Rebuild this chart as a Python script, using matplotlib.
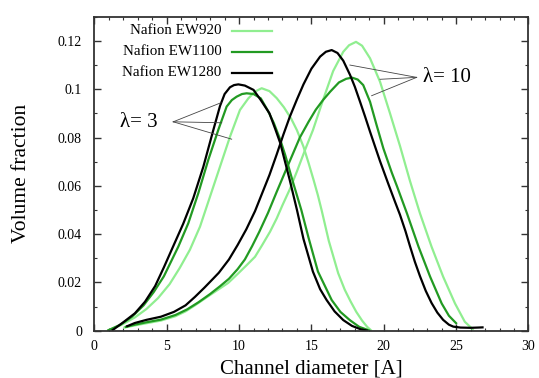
import matplotlib
matplotlib.use("Agg")
import matplotlib.pyplot as plt

plt.rcParams['font.family'] = ['Liberation Serif', 'DejaVu Serif']

# lambda = 3 curves
x3_920 = [0.9, 1.8, 2.8, 3.6, 4.4, 5.2, 5.9, 6.6, 7.3, 7.99, 8.68, 9.37, 10.06, 10.64, 11.1,
          11.56, 12.1, 12.6, 13.1, 13.6, 14.0, 14.45, 14.8, 15.15, 15.45, 15.7, 16.2, 16.85, 17.3,
          17.7, 18.1, 18.5, 18.85, 19.15]
y3_920 = [0, 0.0022, 0.0055, 0.0090, 0.0135, 0.0193, 0.0260, 0.0335, 0.0431, 0.0555, 0.0679, 0.0803,
          0.0914, 0.0962, 0.0990, 0.1004, 0.0992, 0.0963, 0.0925, 0.0878, 0.0830, 0.0762, 0.0695,
          0.0624, 0.0560, 0.0500, 0.0372, 0.0238, 0.0170, 0.0122, 0.0078, 0.0042, 0.0016, 0]

x3_1100 = [0.9, 1.8, 2.6, 3.4, 4.1, 4.8, 5.8, 6.49, 7.18, 7.87, 8.56, 9.14, 9.5, 9.83, 10.2, 10.52,
           11.0, 11.5, 12.0, 12.4, 12.85, 13.2, 13.7, 14.3, 14.8, 15.45, 16.4, 17.0, 17.65, 18.3, 19.05]
y3_1100 = [0, 0.0025, 0.0058, 0.0105, 0.0160, 0.0225, 0.0348, 0.0445, 0.0569, 0.0707, 0.0831, 0.0928,
           0.0955, 0.0969, 0.0980, 0.0983, 0.0980, 0.0962, 0.0910, 0.0860, 0.0790, 0.0725, 0.0620,
           0.0500, 0.0385, 0.0245, 0.0127, 0.0078, 0.0044, 0.0016, 0]

x3_1280 = [1.2, 2.0, 2.8, 3.5, 4.2, 4.8, 5.45, 6.14, 6.83, 7.53, 8.22, 8.68, 9.0, 9.37, 9.65, 9.95,
           10.4, 11.0, 11.5, 12.1, 12.5, 12.85, 13.5, 14.0, 14.45, 15.1, 15.6, 16.05, 16.6, 17.2,
           17.8, 18.4, 18.9]
y3_1280 = [0, 0.0035, 0.0072, 0.0120, 0.0185, 0.0262, 0.0350, 0.0443, 0.0548, 0.0679, 0.0831, 0.0930,
           0.0980, 0.1008, 0.1017, 0.1020, 0.1015, 0.0997, 0.0955, 0.0900, 0.0835, 0.0776, 0.0624,
           0.0500, 0.0380, 0.0245, 0.0172, 0.0127, 0.0080, 0.0044, 0.0020, 0.0006, 0]

# lambda = 10 curves
x10_920 = [2.0, 2.8, 3.6, 4.6, 5.6, 6.3, 6.95, 7.8, 8.6, 9.25, 9.9, 10.5, 11.1, 11.6, 12.14, 12.6,
           13.0, 13.5, 14.0, 14.6, 15.1, 15.8, 16.5, 17.2, 17.6, 18.08, 18.5, 19.05, 19.74, 20.43,
           21.12, 21.81, 22.5, 23.3, 24.1, 24.92, 25.6, 26.2]
y10_920 = [0.0012, 0.0022, 0.0031, 0.0042, 0.0060, 0.0080, 0.0105, 0.0140, 0.0172, 0.0198, 0.0235,
           0.0270, 0.0306, 0.0355, 0.0410, 0.0465, 0.0520, 0.0585, 0.0660, 0.0755, 0.0830, 0.0955,
           0.1075, 0.1155, 0.1182, 0.1196, 0.1180, 0.1128, 0.1031, 0.0900, 0.0765, 0.0620, 0.0486,
           0.0348, 0.0224, 0.0113, 0.0037, 0.0003]

x10_1100 = [2.1, 2.8, 3.6, 4.6, 5.6, 6.4, 7.2, 8.0, 8.7, 9.3, 9.9, 10.4, 10.9, 11.4, 12.0, 12.6, 13.2,
            13.7, 14.2, 14.8, 15.3, 15.8, 16.3, 16.9, 17.4, 17.8, 18.2, 18.58, 19.05, 19.5, 19.97,
            20.55, 20.9, 21.6, 22.4, 23.2, 24.0, 24.5, 25.05]
y10_1100 = [0.0015, 0.0025, 0.0035, 0.0046, 0.0065, 0.0088, 0.0118, 0.0152, 0.0185, 0.0215, 0.0255,
            0.0295, 0.0350, 0.0410, 0.0488, 0.0575, 0.0660, 0.0730, 0.0800, 0.0865, 0.0915, 0.0955,
            0.0990, 0.1028, 0.1043, 0.1048, 0.1040, 0.1017, 0.0948, 0.0852, 0.0755, 0.0655, 0.0600,
            0.0486, 0.0348, 0.0224, 0.0113, 0.0062, 0.0028]

x10_1280 = [2.2, 2.8, 3.6, 4.6, 5.5, 6.3, 6.95, 7.6, 8.2, 8.6, 9.3, 9.9, 10.5, 11.1, 11.6, 12.1, 12.6,
            13.05, 13.5, 14.0, 14.45, 15.0, 15.6, 16.0, 16.4, 16.8, 17.2, 17.67, 18.0, 18.36, 18.7,
            19.05, 19.4, 19.74, 20.3, 20.8, 21.12, 21.5, 21.81, 22.15, 22.5, 22.9, 23.3, 23.7, 24.1,
            24.5, 24.8, 25.3, 26.0, 26.5, 26.9]
y10_1280 = [0.0017, 0.0032, 0.0045, 0.0058, 0.0078, 0.0105, 0.0140, 0.0178, 0.0215, 0.0240, 0.0295,
            0.0355, 0.0420, 0.0495, 0.0570, 0.0645, 0.0730, 0.0810, 0.0885, 0.0958, 0.1020, 0.1085,
            0.1135, 0.1155, 0.1162, 0.1150, 0.1118, 0.1059, 0.1010, 0.0948, 0.0888, 0.0824, 0.0762,
            0.0702, 0.0610, 0.0530, 0.0480, 0.0412, 0.0350, 0.0285, 0.0226, 0.0165, 0.0115, 0.0075,
            0.0045, 0.0025, 0.0017, 0.0013, 0.0012, 0.0013, 0.0014]

labels = ['Nafion EW920', 'Nafion EW1100', 'Nafion EW1280']
colors = ['#90ee90', '#229a22', 'black']

xticks = [0, 5, 10, 15, 20, 25, 30]
yticks = [0, 0.02, 0.04, 0.06, 0.08, 0.1, 0.12]
ytick_labels = ['0', '0.02', '0.04', '0.06', '0.08', '0.1', '0.12']

fig = plt.figure(figsize=(5.39, 3.78), dpi=100)
ax = fig.add_axes([0.1751, 0.1251, 0.8054, 0.8306])

curves3 = [(x3_920, y3_920), (x3_1100, y3_1100), (x3_1280, y3_1280)]
curves10 = [(x10_920, y10_920), (x10_1100, y10_1100), (x10_1280, y10_1280)]
for (xa, ya), (xb, yb), c in zip(curves3, curves10, colors):
    ax.plot(xa, ya, color=c, lw=1.6, solid_capstyle='butt', solid_joinstyle='round')
    ax.plot(xb, yb, color=c, lw=1.6, solid_capstyle='butt', solid_joinstyle='round')

ax.set_xlim(0, 30)
ax.set_ylim(0, 0.13)
ax.set_xticks(xticks)
ax.set_xticks(range(0, 31), minor=True)
ax.set_yticks(yticks)
ax.set_yticklabels(ytick_labels)
ax.set_yticks([i * 0.01 for i in range(14)], minor=True)
ax.tick_params(which='both', direction='in', top=True, right=True, labelsize=10, color='#333333')
ax.tick_params(which='major', length=5, width=1.0)
ax.tick_params(which='minor', length=2.5, width=0.8)
ax.tick_params(axis='y', pad=9)
ax.tick_params(axis='x', pad=7)
for s in ax.spines.values():
    s.set_linewidth(1.3)
    s.set_color('#333333')

ax.set_xlabel('Channel diameter [A]', fontsize=15)
ax.set_ylabel('Volume fraction', fontsize=15.5)
ax.xaxis.set_label_coords(0.5, -0.093)
ax.yaxis.set_label_coords(-0.146, 0.5)

# key, gnuplot style: text then line sample
for i, (lab, c) in enumerate(zip(labels, colors)):
    yy = 0.9556 - i * 0.0669
    ax.text(0.293, yy, lab, transform=ax.transAxes, ha='right', va='center', fontsize=10.8)
    ax.plot([0.3163, 0.4084], [yy, yy], transform=ax.transAxes, color=c, lw=1.6)

# lambda annotations
ax.text(4.4, 0.0862, 'λ= 3', ha='right', va='center', fontsize=15)
for px, py in [(8.75, 0.0944), (8.8, 0.0861), (9.49, 0.0793)]:
    ax.plot([5.45, px], [0.0865, py], color='#444444', lw=0.6)
ax.text(22.7, 0.1048, 'λ= 10', ha='left', va='center', fontsize=15)
for px, py in [(17.66, 0.110), (19.74, 0.1041), (19.16, 0.0973)]:
    ax.plot([22.27, px], [0.1049, py], color='#444444', lw=0.6)

fig.savefig('out.png', dpi=100)
